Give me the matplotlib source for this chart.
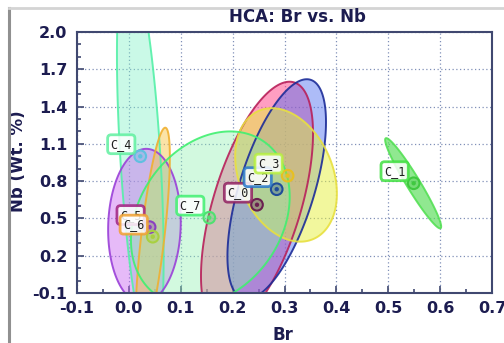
import numpy as np
import matplotlib
matplotlib.use("Agg")
import matplotlib.pyplot as plt
from matplotlib.patches import Polygon
from matplotlib.lines import Line2D

# ---- data ----
clusters = ["C_0", "C_1", "C_2", "C_3", "C_4", "C_5", "C_6", "C_7"]
# cluster centroid markers (Br, Nb)
mark_x = [0.247, 0.549, 0.285, 0.306, 0.022, 0.040, 0.046, 0.155]
mark_y = [0.610, 0.783, 0.735, 0.844, 1.000, 0.430, 0.353, 0.506]
# confidence ellipses: centre, half-extent in x and y, correlation
ell_cx = [0.247, 0.548, 0.285, 0.303, 0.022, 0.030, 0.046, 0.157]
ell_cy = [0.610, 0.783, 0.735, 0.850, 1.000, 0.440, 0.350, 0.500]
ell_sx = [0.108, 0.054, 0.095, 0.098, 0.045, 0.070, 0.033, 0.153]
ell_sy = [0.990, 0.363, 0.885, 0.537, 1.600, 0.620, 0.880, 0.700]
ell_rho = [0.58, -0.96, 0.61, -0.28, -0.51, 0.05, 0.73, 0.25]

ell_fill = ["#ff4f8f", "#55dd55", "#4a6cf0", "#e6f03c", "#7cf0c4", "#c866f0", "#f8c850", "#8ff0b0"]
ell_edge = ["#b8205a", "#55e055", "#1c2c98", "#e8e040", "#55f0a8", "#9a40d8", "#f0b030", "#40f070"]
ell_alpha = [0.55, 0.65, 0.45, 0.50, 0.40, 0.45, 0.50, 0.40]
mark_col = ["#6a2050", "#40c840", "#204c98", "#e8c020", "#60c0e0", "#8a40c0", "#a8d040", "#50e070"]
label_edge = ["#902060", "#40e040", "#2878c8", "#b8f040", "#60f0a0", "#a02080", "#f0a030", "#40f070"]

xticks = [-0.1, 0.0, 0.1, 0.2, 0.3, 0.4, 0.5, 0.6, 0.7]
yticks = [-0.1, 0.2, 0.5, 0.8, 1.1, 1.4, 1.7, 2.0]

navy = "#1c1c50"
W, H = 504, 343
fig = plt.figure(figsize=(W / 100, H / 100), dpi=100)
ax = fig.add_axes([77 / W, 1 - 293 / H, (492 - 77) / W, (293 - 32) / H])

t = np.linspace(0, 2 * np.pi, 300)
for i in range(len(clusters)):
    px = ell_cx[i] + ell_sx[i] * np.cos(t)
    py = ell_cy[i] + ell_sy[i] * (ell_rho[i] * np.cos(t) + np.sqrt(1 - ell_rho[i] ** 2) * np.sin(t))
    ax.add_patch(Polygon(np.column_stack([px, py]), closed=True, facecolor=ell_fill[i],
                         alpha=ell_alpha[i], edgecolor="none", zorder=2 + i * 0.01))
    ax.add_patch(Polygon(np.column_stack([px, py]), closed=True, facecolor="none",
                         edgecolor=ell_edge[i], lw=1.4, alpha=0.9, zorder=2.1 + i * 0.01))

for i in range(len(clusters)):
    ax.scatter([mark_x[i]], [mark_y[i]], s=70, facecolor=mark_col[i], alpha=0.35,
               edgecolor="none", zorder=5)
    ax.scatter([mark_x[i]], [mark_y[i]], s=70, facecolor="none", edgecolor=mark_col[i],
               lw=1.5, zorder=5.1)
    ax.scatter([mark_x[i]], [mark_y[i]], s=10, facecolor=mark_col[i], edgecolor="none", zorder=5.2)
    ax.annotate(clusters[i], xy=(mark_x[i], mark_y[i]), xytext=(-6, 4), textcoords="offset points",
                ha="right", va="bottom", fontsize=8.5, family="DejaVu Sans Mono", color="#202020",
                zorder=6,
                bbox=dict(boxstyle="round,pad=0.25,rounding_size=0.3", facecolor="white", alpha=0.85,
                          edgecolor=label_edge[i], lw=2))

ax.set_xlim(-0.1, 0.7)
ax.set_ylim(-0.1, 2.0)
ax.set_xticks(xticks)
ax.set_yticks(yticks)
ax.set_xticks(np.arange(-0.1, 0.7001, 0.05), minor=True)
ax.set_yticks(np.arange(-0.1, 2.0001, 0.1), minor=True)
ax.set_xticklabels([f"{v:.1f}" for v in xticks])
ax.set_yticklabels([f"{v:.1f}" for v in yticks])
ax.tick_params(which="both", direction="in", color="#404870", labelcolor=navy,
               labelsize=11.5, width=1.2, top=False, right=False)
ax.tick_params(which="major", length=5)
ax.tick_params(axis="y", which="major", pad=7)
ax.tick_params(axis="x", which="major", pad=6)
ax.tick_params(which="minor", length=3)
for lab in ax.get_xticklabels() + ax.get_yticklabels():
    lab.set_fontweight("bold")
for s in ax.spines.values():
    s.set_color("#404870")
    s.set_linewidth(1.5)
ax.grid(True, which="major", color="#8090b8", lw=0.9, linestyle=(0, (1, 2)))
ax.set_axisbelow(True)

ax.set_xlabel("Br", fontsize=12, fontweight="bold", color=navy)
ax.xaxis.set_label_coords(0.496, -0.125)
ax.set_ylabel("Nb (Wt. %)", fontsize=12, fontweight="bold", color=navy)
ax.yaxis.set_label_coords(-0.12, 0.504)
fig.text(297 / W, 1 - 17 / H, "HCA: Br vs. Nb", ha="center", va="center",
         fontsize=12, fontweight="bold", color=navy)

# screenshot frame lines
fig.add_artist(Line2D([9 / W, 9 / W], [0, 1 - 8 / H], color="#909090", lw=2.2))
fig.add_artist(Line2D([9 / W, 1], [1 - 8 / H, 1 - 8 / H], color="#d4d4d4", lw=2))

fig.savefig("out.png", dpi=100)
